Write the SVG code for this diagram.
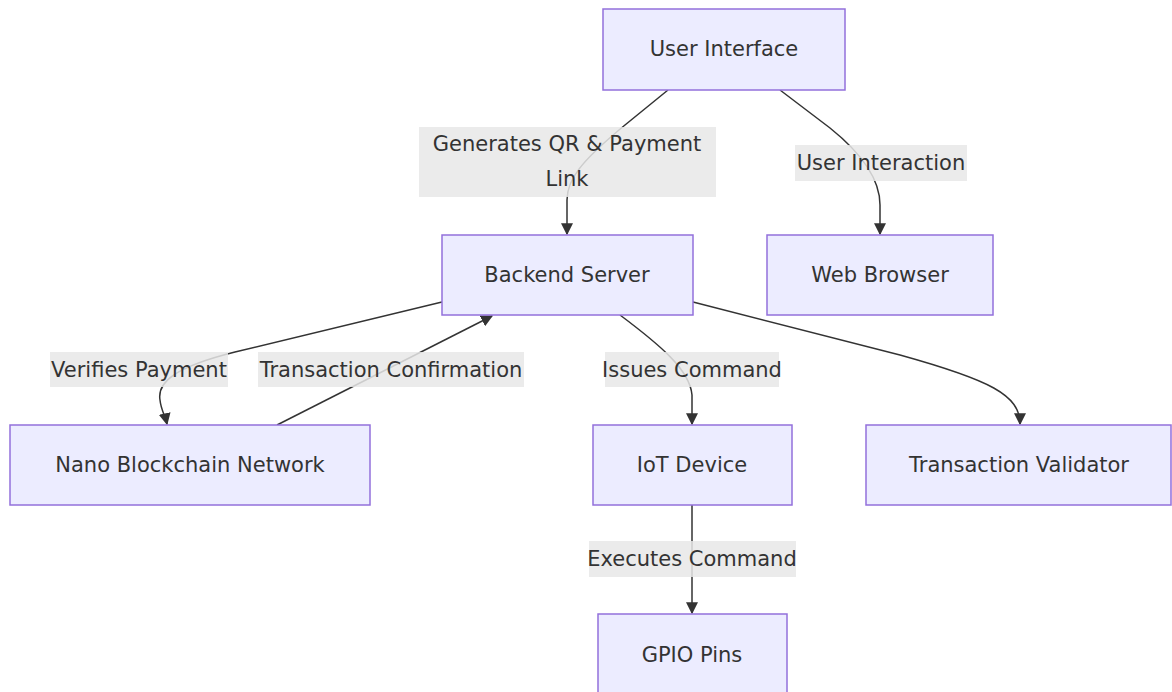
<svg xmlns="http://www.w3.org/2000/svg" width="1172" height="692" viewBox="0 0 1172 692">
<style>
.node rect{fill:#ECECFF;stroke:#9370DB;stroke-width:1.5}
text{font-family:"DejaVu Sans","Liberation Sans",sans-serif;font-size:21px;fill:#333;text-anchor:middle;dominant-baseline:central}
.edge{fill:none;stroke:#333;stroke-width:1.5}
.lbl{fill:#E8E8E8;fill-opacity:0.85}
</style>
<defs>
<marker id="arr" viewBox="0 0 10 10" refX="9" refY="5" markerWidth="12" markerHeight="12" markerUnits="userSpaceOnUse" orient="auto">
<path d="M0,0 L10,5 L0,10 z" fill="#333"/>
</marker>
</defs>
<rect width="1172" height="692" fill="#fff"/>
<g id="connectors">
<path class="edge" d="M668,90 L625,125 C580,162 567,180 567,200 L567,234" marker-end="url(#arr)"/>
<path class="edge" d="M780,90 L830,128 C870,160 880,185 880,205 L880,234" marker-end="url(#arr)"/>
<path class="edge" d="M442,302 L235,352 C175,367 157,382 160,400 C161,410 165,415 167,424" marker-end="url(#arr)"/>
<path class="edge" d="M277,425 L492,316" marker-end="url(#arr)"/>
<path class="edge" d="M620,315 C660,345 690,370 692,395 L692,424" marker-end="url(#arr)"/>
<path class="edge" d="M693,302 L900,355 C990,380 1020,395 1020,424" marker-end="url(#arr)"/>
<path class="edge" d="M692,505 L692,613" marker-end="url(#arr)"/>
<g id="edge-labels">
<rect class="lbl" x="419" y="127" width="297" height="70"/>
<text x="567" y="144">Generates QR &amp; Payment</text>
<text x="567" y="179">Link</text>
<rect class="lbl" x="795" y="145" width="172" height="36"/>
<text x="881" y="163">User Interaction</text>
<rect class="lbl" x="50" y="352" width="178" height="35"/>
<text x="139" y="370">Verifies Payment</text>
<rect class="lbl" x="258" y="352" width="266" height="35"/>
<text x="391" y="370">Transaction Confirmation</text>
<rect class="lbl" x="605" y="352" width="174" height="35"/>
<text x="692" y="370">Issues Command</text>
<rect class="lbl" x="589" y="541" width="207" height="36"/>
<text x="692" y="559">Executes Command</text>
</g>
</g>
<g id="user-interface" class="node"><rect x="603" y="9" width="242" height="81"/><text x="724" y="49">User Interface</text></g>
<g id="backend-server" class="node"><rect x="442" y="235" width="251" height="80"/><text x="567" y="275">Backend Server</text></g>
<g id="web-browser" class="node"><rect x="767" y="235" width="226" height="80"/><text x="880" y="275">Web Browser</text></g>
<g id="nano-network" class="node"><rect x="10" y="425" width="360" height="80"/><text x="190" y="465">Nano Blockchain Network</text></g>
<g id="iot-device" class="node"><rect x="593" y="425" width="199" height="80"/><text x="692" y="465">IoT Device</text></g>
<g id="transaction-validator" class="node"><rect x="866" y="425" width="305" height="80"/><text x="1019" y="465">Transaction Validator</text></g>
<g id="gpio-pins" class="node"><rect x="598" y="614" width="189" height="80"/><text x="692" y="655">GPIO Pins</text></g>
</svg>
